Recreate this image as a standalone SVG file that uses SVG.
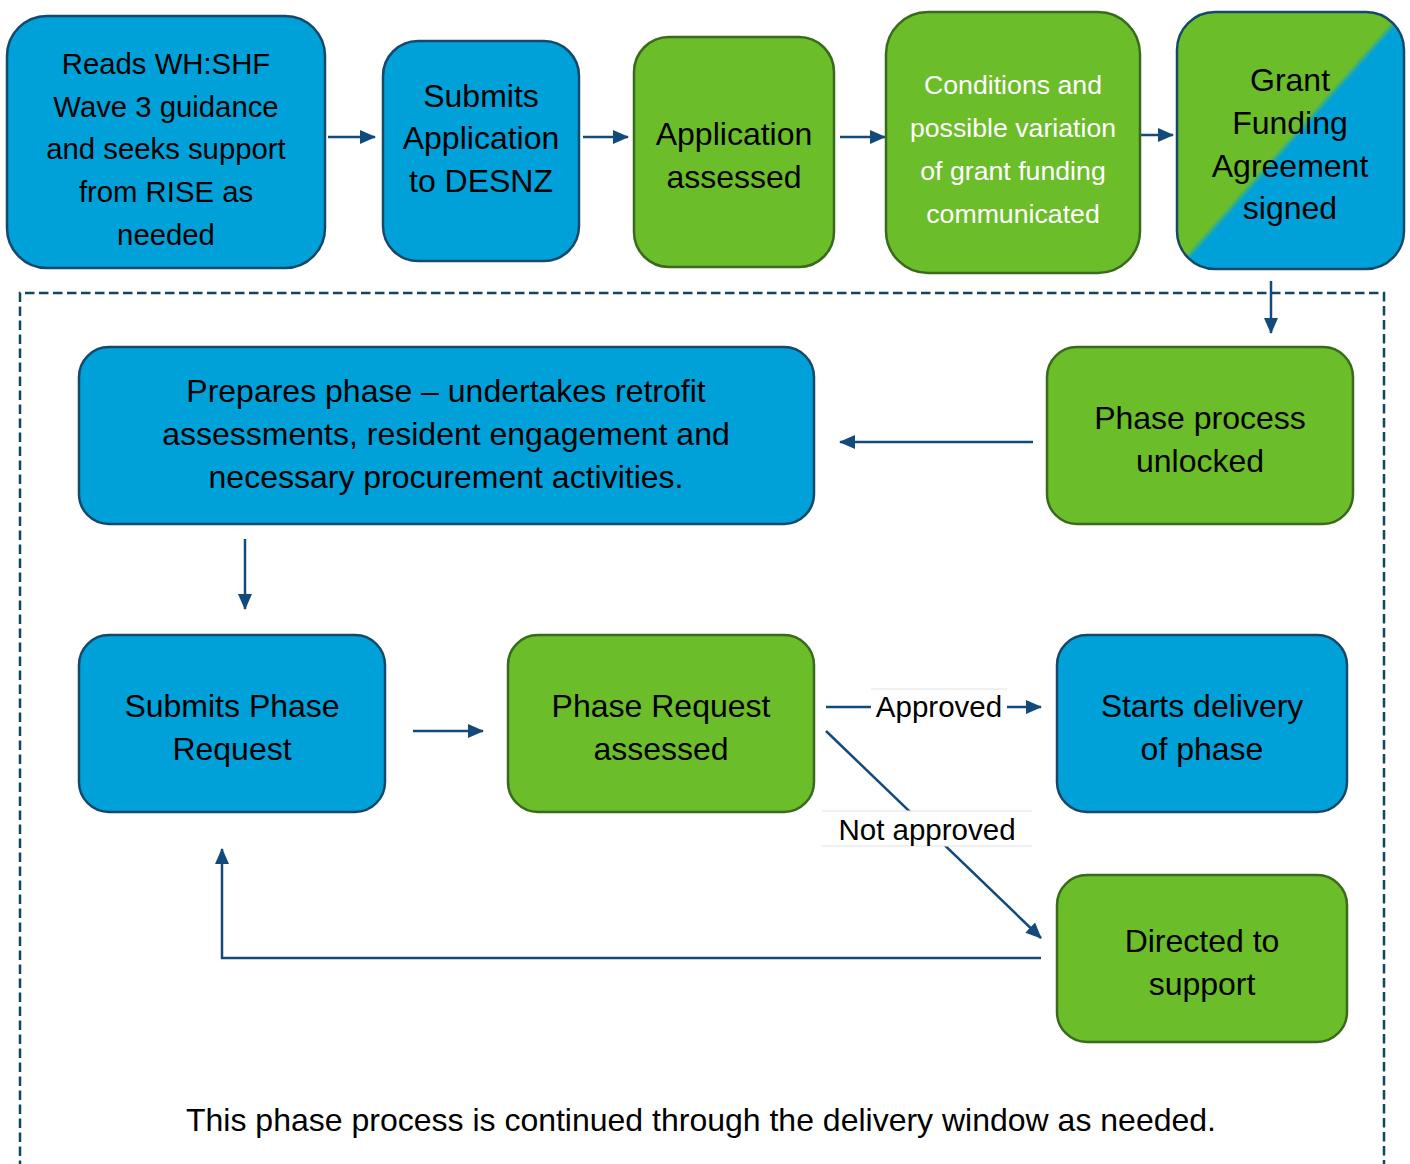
<svg xmlns="http://www.w3.org/2000/svg" width="1410" height="1164" viewBox="0 0 1410 1164">
<defs>
<linearGradient id="split" x1="0" y1="0" x2="1" y2="1">
<stop offset="0.49" stop-color="#6BBD2A"/>
<stop offset="0.51" stop-color="#00A0D9"/>
</linearGradient>
<marker id="arr" markerUnits="userSpaceOnUse" markerWidth="16" markerHeight="16" viewBox="0 0 16 16" refX="15" refY="8" orient="auto">
<path d="M0,1 L16,8 L0,15 Z" fill="#134A7C"/>
</marker>
<style>
.blue{fill:#00A0D9;stroke:#16486B;stroke-width:2.5}
.green{fill:#6BBD2A;stroke:#3A6A1C;stroke-width:2.5}
.split{fill:url(#split);stroke:#16486B;stroke-width:2.5}
text{font-family:"Liberation Sans",Arial,sans-serif;font-size:32px;fill:#000;text-anchor:middle}
.s29{font-size:29.3px}
.lb{font-size:29.5px}
.w{fill:#fff;font-size:26.7px}
.c{fill:none;stroke:#134A7C;stroke-width:2.5}
.ca{fill:none;stroke:#134A7C;stroke-width:2.5;marker-end:url(#arr)}
.dash{fill:none;stroke:#114660;stroke-width:2.5;stroke-dasharray:9.5 4.5}
.lbl{fill:#fff}
.lblline{stroke:#E2E2E2;stroke-width:1}
</style>
</defs>
<rect width="1410" height="1164" fill="#fff"/>

<path class="dash" d="M20,1170 L20,293 L1384,293 L1384,1170"/>

<g id="connectors">
<line class="ca" x1="328" y1="137" x2="375" y2="137"/>
<line class="ca" x1="583" y1="137" x2="628" y2="137"/>
<line class="ca" x1="840" y1="137" x2="885" y2="137"/>
<line class="ca" x1="1128" y1="135" x2="1173" y2="135"/>
<line class="ca" x1="1271" y1="281" x2="1271" y2="333"/>
<line class="ca" x1="1033" y1="442" x2="840" y2="442"/>
<line class="ca" x1="245" y1="539" x2="245" y2="609"/>
<line class="ca" x1="413" y1="731" x2="483" y2="731"/>
<line class="ca" x1="826" y1="707" x2="1041" y2="707"/>
<line class="ca" x1="826" y1="731" x2="1041" y2="938"/>
<path class="ca" d="M1041,958 L222,958 L222,849"/>
<g id="label-approved">
<rect class="lbl" x="871" y="689" width="136" height="35"/>
<line class="lblline" x1="871" y1="689" x2="1007" y2="689"/>
<text class="lb" x="939" y="717">Approved</text>
</g>
<g id="label-not-approved">
<rect class="lbl" x="822" y="811" width="210" height="35"/>
<line class="lblline" x1="822" y1="811" x2="1032" y2="811"/>
<line class="lblline" x1="822" y1="846" x2="1032" y2="846"/>
<text class="lb" x="927" y="840">Not approved</text>
</g>
</g>

<g id="n-reads">
<rect class="blue" x="7" y="16" width="318" height="252" rx="40"/>
<text class="s29" x="166" y="74">Reads WH:SHF</text>
<text class="s29" x="166" y="117">Wave 3 guidance</text>
<text class="s29" x="166" y="159">and seeks support</text>
<text class="s29" x="166" y="202">from RISE as</text>
<text class="s29" x="166" y="245">needed</text>
</g>
<g id="n-submits-app">
<rect class="blue" x="383" y="41" width="196" height="220" rx="35"/>
<text x="481" y="107">Submits</text>
<text x="481" y="149">Application</text>
<text x="481" y="192">to DESNZ</text>
</g>
<g id="n-app-assessed">
<rect class="green" x="634" y="37" width="200" height="230" rx="35"/>
<text x="734" y="145">Application</text>
<text x="734" y="188">assessed</text>
</g>
<g id="n-conditions">
<rect class="green" x="886" y="12" width="254" height="261" rx="42"/>
<text class="w" x="1013" y="94">Conditions and</text>
<text class="w" x="1013" y="137">possible variation</text>
<text class="w" x="1013" y="180">of grant funding</text>
<text class="w" x="1013" y="223">communicated</text>
</g>
<g id="n-gfa">
<rect class="split" x="1177" y="12" width="227" height="257" rx="38"/>
<text x="1290" y="91">Grant</text>
<text x="1290" y="134">Funding</text>
<text x="1290" y="177">Agreement</text>
<text x="1290" y="219">signed</text>
</g>
<g id="n-prepares">
<rect class="blue" x="79" y="347" width="735" height="177" rx="30"/>
<text x="446" y="402">Prepares phase – undertakes retrofit</text>
<text x="446" y="445">assessments, resident engagement and</text>
<text x="446" y="488">necessary procurement activities.</text>
</g>
<g id="n-unlocked">
<rect class="green" x="1047" y="347" width="306" height="177" rx="30"/>
<text x="1200" y="429">Phase process</text>
<text x="1200" y="472">unlocked</text>
</g>
<g id="n-submits-phase">
<rect class="blue" x="79" y="635" width="306" height="177" rx="30"/>
<text x="232" y="717">Submits Phase</text>
<text x="232" y="760">Request</text>
</g>
<g id="n-phase-assessed">
<rect class="green" x="508" y="635" width="306" height="177" rx="30"/>
<text x="661" y="717">Phase Request</text>
<text x="661" y="760">assessed</text>
</g>
<g id="n-starts">
<rect class="blue" x="1057" y="635" width="290" height="177" rx="30"/>
<text x="1202" y="717">Starts delivery</text>
<text x="1202" y="760">of phase</text>
</g>
<g id="n-directed">
<rect class="green" x="1057" y="875" width="290" height="167" rx="30"/>
<text x="1202" y="952">Directed to</text>
<text x="1202" y="995">support</text>
</g>

<text x="701" y="1131">This phase process is continued through the delivery window as needed.</text>
</svg>
